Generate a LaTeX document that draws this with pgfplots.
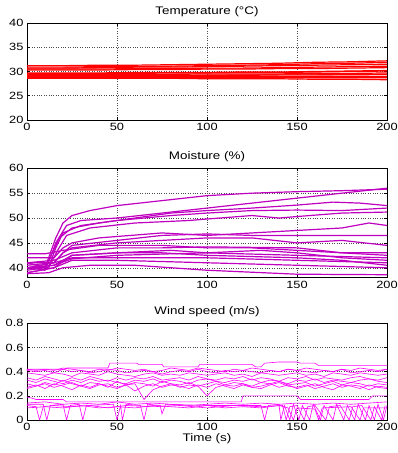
\documentclass[border=0pt]{standalone}
\usepackage{pgfplots}
\pgfplotsset{compat=1.18}
\usepackage{pgfplotstable}
\usepackage{fontspec}
\setmainfont[FakeStretch=1.22]{Liberation Sans}
\definecolor{tred}{RGB}{255,0,0}
\definecolor{mpurp}{RGB}{192,0,192}
\definecolor{wmag}{RGB}{255,0,255}

\pgfplotstableread{
t T1 T2 T3 T4 T5 T6 T7 T8 T9 T10 T11 T12 T13
0 31.2 30.9 30.7 30.5 30.3 29.6 29.4 29.2 29.0 28.8 28.6 29.7 29.0
20 31.2 30.9 30.7 30.5 30.3 29.6 29.4 29.2 29.0 28.8 28.6 29.7 29.1
40 31.3 31.0 30.8 30.5 30.3 29.6 29.4 29.2 29.0 28.8 28.6 29.7 29.1
60 31.3 31.0 30.9 30.6 30.4 29.6 29.4 29.2 29.0 28.8 28.6 29.8 29.1
80 31.4 31.1 30.9 30.6 30.4 29.7 29.4 29.2 29.0 28.8 28.6 29.8 29.2
100 31.5 31.2 31.0 30.7 30.5 29.7 29.5 29.2 29.0 28.8 28.5 29.8 29.2
120 31.6 31.3 31.1 30.7 30.5 29.8 29.5 29.3 29.0 28.8 28.5 29.9 29.2
140 31.7 31.4 31.2 30.8 30.6 29.8 29.5 29.3 29.0 28.7 28.5 29.9 29.3
160 31.9 31.6 31.3 30.9 30.6 29.9 29.6 29.3 29.0 28.7 28.4 30.0 29.3
180 32.0 31.7 31.4 31.0 30.7 30.0 29.6 29.4 29.0 28.7 28.4 30.1 29.3
200 32.2 31.9 31.5 31.1 30.8 30.1 29.7 29.4 29.0 28.7 28.3 30.2 29.4
}\temptable

\pgfplotstableread{
t A2 A3 A4 B1 B2 B3 B4 B5
0 0.41 0.39 0.42 0.30 0.27 0.33 0.26 0.35
5 0.40 0.38 0.41 0.28 0.29 0.31 0.28 0.33
10 0.41 0.37 0.42 0.31 0.26 0.34 0.30 0.36
15 0.39 0.39 0.41 0.29 0.30 0.32 0.27 0.34
20 0.42 0.38 0.43 0.33 0.28 0.30 0.29 0.32
25 0.40 0.36 0.42 0.30 0.25 0.33 0.31 0.35
30 0.41 0.39 0.41 0.28 0.29 0.31 0.28 0.33
35 0.39 0.38 0.40 0.31 0.27 0.34 0.26 0.36
40 0.40 0.37 0.42 0.30 0.30 0.32 0.29 0.34
45 0.42 0.40 0.41 0.27 0.28 0.33 0.30 0.32
50 0.41 0.38 0.43 0.32 0.26 0.31 0.27 0.35
55 0.39 0.37 0.42 0.29 0.29 0.30 0.29 0.33
60 0.40 0.36 0.41 0.31 0.24 0.33 0.30 0.35
65 0.41 0.38 0.42 0.30 0.28 0.32 0.17 0.34
70 0.40 0.39 0.40 0.28 0.30 0.34 0.25 0.36
75 0.38 0.37 0.41 0.32 0.27 0.31 0.28 0.33
80 0.40 0.38 0.43 0.30 0.29 0.33 0.30 0.34
85 0.41 0.37 0.42 0.29 0.28 0.32 0.27 0.35
90 0.40 0.39 0.41 0.31 0.26 0.30 0.29 0.33
95 0.42 0.38 0.43 0.28 0.29 0.33 0.28 0.36
100 0.40 0.37 0.42 0.30 0.27 0.34 0.20 0.34
105 0.39 0.38 0.41 0.32 0.30 0.32 0.27 0.33
110 0.41 0.39 0.40 0.29 0.28 0.31 0.29 0.35
115 0.40 0.37 0.42 0.31 0.26 0.33 0.28 0.34
120 0.41 0.38 0.41 0.30 0.29 0.32 0.30 0.36
125 0.40 0.36 0.43 0.28 0.27 0.34 0.27 0.33
130 0.39 0.39 0.42 0.31 0.28 0.31 0.26 0.35
135 0.41 0.38 0.41 0.30 0.30 0.33 0.29 0.34
140 0.40 0.37 0.40 0.32 0.27 0.32 0.31 0.32
145 0.42 0.38 0.42 0.29 0.29 0.30 0.28 0.35
150 0.41 0.39 0.41 0.30 0.26 0.33 0.27 0.34
155 0.40 0.37 0.43 0.31 0.28 0.32 0.29 0.36
160 0.39 0.38 0.42 0.28 0.30 0.34 0.26 0.33
165 0.41 0.36 0.41 0.30 0.27 0.31 0.28 0.35
170 0.40 0.39 0.40 0.32 0.25 0.33 0.30 0.34
175 0.42 0.38 0.42 0.29 0.29 0.32 0.27 0.33
180 0.39 0.37 0.41 0.31 0.28 0.31 0.29 0.35
185 0.40 0.39 0.43 0.30 0.26 0.33 0.28 0.36
190 0.41 0.38 0.42 0.28 0.29 0.34 0.25 0.34
195 0.40 0.37 0.41 0.30 0.27 0.32 0.28 0.33
200 0.42 0.38 0.42 0.29 0.26 0.31 0.27 0.35
}\windtable

\pgfplotsset{
  matlab/.style={
    scale only axis, width=360pt,
    xmin=0, xmax=200, xtick={0,50,100,150,200},
    grid=major, grid style={dotted, black!70, line width=0.5pt},
    tick align=inside, tick pos=both,
    major tick length=3pt,
    axis line style={black, line width=0.7pt},
    tick style={black, line width=0.5pt},
    /pgf/number format/assume math mode=true,
    tick label style={font=\fontsize{10.5}{12}\selectfont},
    title style={font=\fontsize{11}{12}\selectfont, yshift=-3pt},
    label style={font=\fontsize{11}{12}\selectfont},
    anchor=south west, clip=true,
  },
  tl/.style={tred, line width=1.2pt},
  ml/.style={mpurp, line width=1.2pt},
  wl/.style={wmag, line width=0.6pt},
}

\begin{document}
\begin{tikzpicture}
\path[use as bounding box] (0pt,0pt) rectangle (397pt,453pt);

% Temperature
\begin{axis}[matlab, at={(27pt,333pt)}, height=97pt,
  ymin=20, ymax=40, ytick={20,25,30,35,40},
  title={Temperature (°C)}]
\foreach \c in {T1,T2,T3,T4,T5,T6,T7,T8,T9,T10,T11,T12,T13}{
  \addplot[tl] table[x=t, y=\c] {\temptable};
}
\end{axis}

% Moisture
\begin{axis}[matlab, at={(27pt,175.3pt)}, height=109.4pt,
  ymin=38, ymax=60, ytick={40,45,50,55,60},
  title={Moisture (\%)}]
\addplot[ml] coordinates {(0,41)(5,40.5)(10,40)(13,43)(16,46)(20,49)(25,50.5)(35,51.5)(50,52.5)(75,53.5)(100,54.5)(125,55)(150,55.3)(175,55.5)(200,55.8)};
\addplot[ml] coordinates {(0,40)(5,39.8)(10,39.5)(13,42)(16,45)(22,48.5)(30,49.5)(50,50)(75,51)(100,52)(125,53)(150,54)(175,55)(200,56)};
\addplot[ml] coordinates {(0,39.5)(10,40)(14,43)(18,46)(25,48)(40,49)(60,50)(80,51)(100,51.5)(125,52)(150,52.6)(170,53.2)(185,53)(200,52.5)};
\addplot[ml] coordinates {(0,41)(12,40)(16,44)(20,47)(30,48.5)(50,49.5)(80,50.5)(100,51)(125,51.5)(150,51.6)(175,51.5)(200,52)};
\addplot[ml] coordinates {(0,40)(12,40)(17,43.5)(22,46.5)(35,48)(60,49)(90,49.5)(100,49.8)(125,50.5)(140,50)(150,50.3)(175,51)(200,51.2)};
\addplot[ml] coordinates {(0,42)(15,42)(20,44)(25,45)(40,46)(75,47)(100,46.5)(125,47)(150,47.5)(175,48)(190,49)(200,48.5)};
\addplot[ml] coordinates {(0,41)(15,41)(20,43)(25,44.5)(50,45.5)(75,46.5)(100,46.8)(125,46.5)(150,46.5)(175,46.5)(200,46.5)};
\addplot[ml] coordinates {(0,40)(15,41)(20,43)(25,44)(50,45)(75,45.5)(100,46)(125,46)(150,45)(175,45.5)(200,44.5)};
\addplot[ml] coordinates {(0,42.8)(10,42.8)(20,43.5)(40,44.5)(75,44.5)(100,44)(125,44)(150,43.5)(175,43)(200,43)};
\addplot[ml] coordinates {(0,41)(15,41.5)(25,43)(50,44)(75,44)(100,44.2)(150,44)(175,43)(200,42.5)};
\addplot[ml] coordinates {(0,40)(15,40.5)(25,42.5)(50,43)(80,43.5)(100,43)(130,43.5)(150,43)(175,42)(200,41.5)};
\addplot[ml] coordinates {(0,39)(15,40)(25,42.5)(50,43)(75,43)(100,42.5)(150,42)(175,41.5)(200,40.5)};
\addplot[ml] coordinates {(0,40.5)(15,41)(25,42)(50,42)(75,42)(100,42)(150,41.5)(200,41)};
\addplot[ml] coordinates {(0,39)(15,40)(25,41.5)(50,41.5)(100,41)(150,40.5)(200,40)};
\addplot[ml] coordinates {(0,38.8)(12,39)(20,40)(35,40.5)(60,40.5)(100,39.5)(150,38.7)(200,38.6)};
\addplot[ml] coordinates {(0,40)(15,40.5)(25,41.8)(50,42.5)(100,43)(150,42.5)(200,42)};
\end{axis}

% Wind speed
\begin{axis}[matlab, at={(27pt,33pt)}, height=96.7pt,
  ymin=0, ymax=0.8, ytick={0,0.2,0.4,0.6,0.8},
  yticklabels={0,0.2,0.4,0.6,0.8},
  title={Wind speed (m/s)}, xlabel={Time (s)},
  xlabel style={yshift=4pt}]
\foreach \c in {A2,A3,A4,B1,B2,B3,B4,B5}{
  \addplot[wl] table[x=t, y=\c] {\windtable};
}
\addplot[wl] coordinates {(0,0.42)(21,0.42)(22,0.43)(45,0.43)(46,0.47)(61,0.47)(62,0.46)(75,0.46)(76,0.44)(95,0.44)(96,0.46)(125,0.46)(127,0.44)(130,0.44)(132,0.47)(140,0.48)(150,0.48)(152,0.47)(160,0.47)(162,0.45)(200,0.45)};
\addplot[wl] coordinates {(0,0.19)(3,0.18)(5,0.17)(20,0.17)(22,0.15)(119,0.15)(120,0.2)(150,0.2)(152,0.17)(190,0.17)(192,0.2)(200,0.2)};
\addplot[wl] coordinates {(0,0)(200,0)};
\addplot[wl] coordinates {(0,0.13)(9,0.13)(11,0)(13,0.12)(20,0.13)(22,0)(24,0.12)(29,0.13)(31,0)(33,0.12)(48,0.13)(50,0)(52,0.12)(53,0)(55,0.13)(63,0.12)(65,0)(67,0.13)(74,0.12)(75,0.05)(77,0.13)(100,0.12)(130,0.12)(132,0)(134,0.12)(140,0.13)(141,0)(143,0.12)(146,0)(148,0.13)(151,0)(153,0.12)(157,0)(159,0.13)(163,0)(165,0.12)(170,0)(172,0.13)(176,0)(178,0.12)(182,0)(184,0.13)(188,0)(190,0.12)(193,0)(195,0.13)(198,0)(200,0.12)};
\addplot[wl] coordinates {(0,0.12)(5,0.11)(7,0)(9,0.11)(15,0.12)(25,0.11)(35,0.12)(45,0.1)(55,0.12)(70,0.11)(85,0.12)(100,0.1)(115,0.12)(130,0.11)(142,0.12)(144,0)(146,0.11)(150,0.12)(154,0)(156,0.11)(160,0.12)(166,0)(168,0.11)(174,0.12)(179,0)(181,0.11)(186,0.12)(191,0)(193,0.11)(197,0)(199,0.12)};
\addplot[wl] coordinates {(0,0.14)(10,0.15)(20,0.13)(30,0.14)(40,0.13)(50,0.15)(60,0.13)(70,0.14)(80,0.13)(90,0.12)(100,0.13)(110,0.14)(120,0.13)(130,0.14)(140,0.13)(150,0.14)(160,0.13)(170,0.14)(180,0.13)(190,0.14)(200,0.15)};
\addplot[wl] coordinates {(0,0.1)(10,0.11)(20,0.1)(30,0.12)(40,0.1)(50,0.11)(60,0.1)(70,0.12)(80,0.11)(90,0.1)(100,0.12)(110,0.1)(120,0.11)(130,0.1)(140,0.12)(145,0.1)(148,0)(150,0.1)(160,0.09)(162,0)(164,0.1)(180,0.11)(185,0)(187,0.1)(200,0.1)};
\end{axis}
\end{tikzpicture}
\end{document}
